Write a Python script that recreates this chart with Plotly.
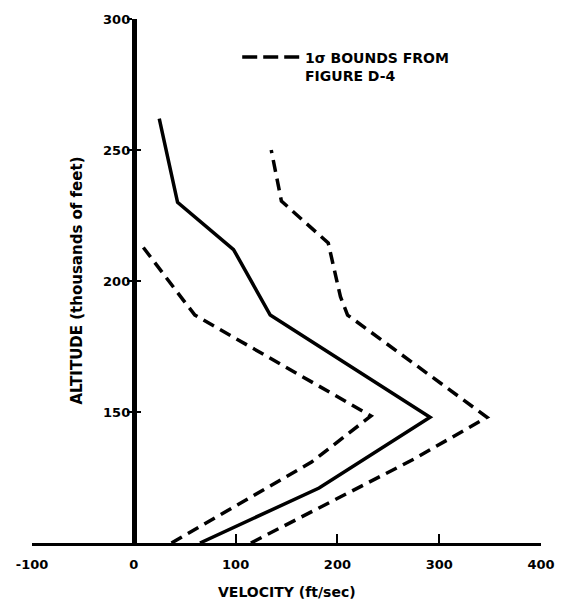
import plotly.graph_objects as go

# mean velocity profile (ft/sec vs thousands of feet)
mean_velocity = [65, 182, 291, 134, 98, 43, 25]
mean_altitude = [100, 121, 148, 187, 212, 230, 262]

# 1-sigma bounds from figure D-4
lower_velocity = [37, 175, 233, 60, 49, 9]
lower_altitude = [100, 131, 148.5, 187, 192.5, 213]

upper_velocity = [115, 275, 347, 210, 203, 191, 145, 135]
upper_altitude = [100, 132, 148, 187, 194, 214.5, 230.5, 250]

x_ticks = [-100, 0, 100, 200, 300, 400]
y_ticks = [150, 200, 250, 300]

FONT = "DejaVu Sans"
INK = "black"

fig = go.Figure()

fig.add_trace(go.Scatter(
    x=mean_velocity, y=mean_altitude, mode="lines",
    line=dict(color=INK, width=3.5), showlegend=False
))
for vx, vy in [(lower_velocity, lower_altitude), (upper_velocity, upper_altitude)]:
    fig.add_trace(go.Scatter(
        x=vx, y=vy, mode="lines",
        line=dict(color=INK, width=3.5, dash="12px,7px"), showlegend=False
    ))

# empty trace so the second y axis (right half of the crossing ticks) is drawn
fig.add_trace(go.Scatter(x=[None], y=[None], yaxis="y2", showlegend=False))

fig.update_layout(
    width=564, height=601,
    margin=dict(l=24, r=31, t=11, b=66, autoexpand=False),
    paper_bgcolor="white", plot_bgcolor="white",
    font=dict(family=FONT, color=INK),
    xaxis=dict(
        range=[-100, 400], domain=[0, 1], automargin=False,
        showgrid=False, zeroline=False,
        showline=True, linewidth=3, linecolor=INK,
        ticks="inside", ticklen=9, tickwidth=2, tickcolor=INK,
        tickvals=x_ticks, ticktext=[str(v) for v in x_ticks],
        ticklabelstandoff=7,
        tickfont=dict(size=13, family=FONT, weight="bold"),
    ),
    yaxis=dict(
        range=[100, 300], anchor="free", position=0.2, automargin=False,
        showgrid=False, zeroline=False,
        showline=True, linewidth=5, linecolor=INK,
        ticks="outside", ticklen=5, tickwidth=2, tickcolor=INK,
        tickvals=y_ticks, ticktext=[str(v) for v in y_ticks],
        ticklabelstandoff=-6,
        tickfont=dict(size=13, family=FONT, weight="bold"),
    ),
    yaxis2=dict(
        range=[100, 300], overlaying="y", anchor="free", position=0.2,
        automargin=False,
        showgrid=False, zeroline=False, showline=False,
        ticks="inside", ticklen=6, tickwidth=2, tickcolor=INK,
        tickvals=y_ticks, showticklabels=False,
    ),
    annotations=[
        dict(text="VELOCITY (ft/sec)", xref="paper", yref="paper",
             x=0.5, y=-0.112, showarrow=False,
             font=dict(size=14, family=FONT, weight="bold")),
        dict(text="ALTITUDE (thousands of feet)", xref="paper", yref="paper",
             x=0.066, y=0.5, textangle=-90, showarrow=False,
             font=dict(size=15, family=FONT, weight="bold")),
        dict(text="1\u03c3 BOUNDS FROM<br>FIGURE D-4", xref="paper", yref="paper",
             x=0.532, y=0.909, xanchor="left", yanchor="middle", align="left",
             showarrow=False,
             font=dict(size=14, family=FONT, weight="bold")),
    ],
    shapes=[
        dict(type="line", xref="paper", yref="paper",
             x0=0.413, x1=0.526, y0=0.9275, y1=0.9275,
             line=dict(color=INK, width=3.5, dash="15px,6px")),
    ],
)

fig.write_html("out.html")
